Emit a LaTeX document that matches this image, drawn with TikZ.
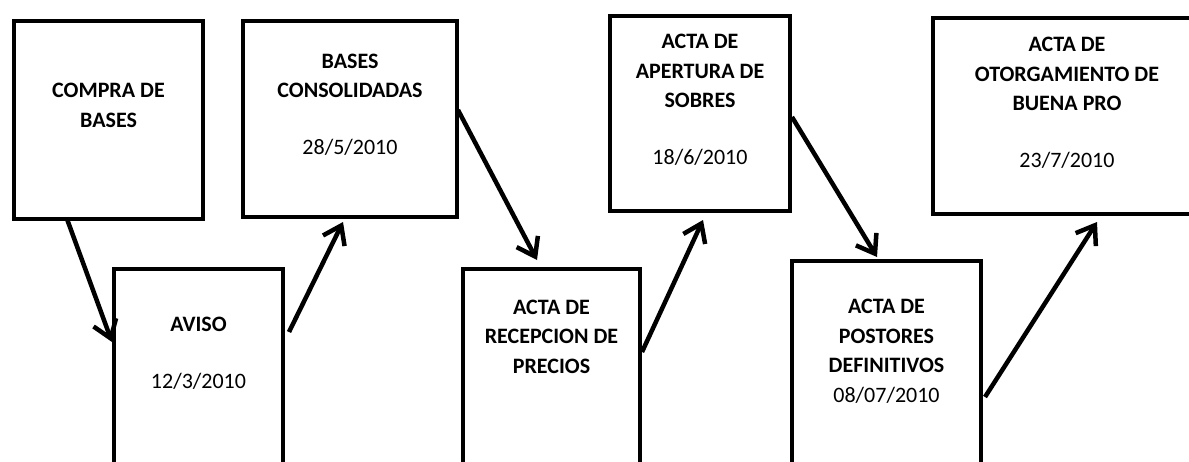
\documentclass[tikz,border=0pt]{standalone}
\usepackage{fontspec}
\setmainfont{Carlito}
\usetikzlibrary{arrows.meta}
\newcommand*\boxline{4.5pt}
\newcommand*\flowline{4.5pt}
\tikzset{
    stage/.style     = {draw, rectangle, line width=\boxline,
                        anchor=north west, inner sep=0pt, outer sep=0pt},
    stagetext/.style = {anchor=base, align=center, inner sep=0pt,
                        font=\fontsize{22}{29.5}\selectfont\bfseries},
    flow/.style      = {line width=\flowline,
                        -{Straight Barb[length=17pt, width=24pt]}},
  }

\begin{document}
\begin{tikzpicture}[x=1pt, y=-1pt]
    % page frame: boxes run off the right and bottom edges
    \useasboundingbox (0,0) rectangle (1189,461);
    \clip (0,0) rectangle (1189,461);

    % upper row of boxes
    \node[stage, minimum width=189pt, minimum height=198pt] (compra)       at (14,21)  {};
    \node[stage, minimum width=214pt, minimum height=196pt] (bases)        at (243,21) {};
    \node[stage, minimum width=180pt, minimum height=195pt] (apertura)     at (610,16) {};
    \node[stage, minimum width=268pt, minimum height=196pt] (otorgamiento) at (933,18) {};

    % lower row of boxes
    \node[stage, minimum width=169pt, minimum height=240pt] (aviso)     at (114,269) {};
    \node[stage, minimum width=177pt, minimum height=240pt] (recepcion) at (463,269) {};
    \node[stage, minimum width=189pt, minimum height=240pt] (postores)  at (792,261) {};

    % texts: base anchor sits on the last line, so shift down to it
    \node[stagetext] (compratext)    at ([yshift=-106pt]compra.north)    {COMPRA DE\\BASES};
    \node[stagetext] (avisotext)     at ([yshift=-119pt]aviso.north)     {AVISO\\[27pt]\mdseries 12/3/2010};
    \node[stagetext] (basestext)     at ([yshift=-133pt]bases.north)     {BASES\\CONSOLIDADAS\\[27pt]\mdseries 28/5/2010};
    \node[stagetext] (recepciontext) at ([yshift=-104pt]recepcion.north) {ACTA DE\\RECEPCION DE\\PRECIOS};
    \node[stagetext] (aperturatext)  at ([yshift=-148pt]apertura.north)  {ACTA DE\\APERTURA DE\\SOBRES\\[27pt]\mdseries 18/6/2010};
    \node[stagetext] (postorestext)  at ([yshift=-141pt]postores.north)  {ACTA DE\\POSTORES\\DEFINITIVOS\\\mdseries 08/07/2010};
    \node[stagetext] (otorgamientotext) at ([yshift=-149pt]otorgamiento.north) {ACTA DE\\OTORGAMIENTO DE\\BUENA PRO\\[27pt]\mdseries 23/7/2010};

    % zig-zag of arrows between the rows
    \draw[flow] ([xshift=53pt]compra.south west) -- ([xshift=-2pt, yshift=-73pt]aviso.north west);
    \draw[flow] ([xshift=6pt, yshift=-63pt]aviso.north east) -- ([xshift=100pt, yshift=-5pt]bases.south west);
    \draw[flow] ([xshift=1pt, yshift=-89pt]bases.north east) -- ([xshift=74pt, yshift=9pt]recepcion.north west);
    \draw[flow] ([xshift=2pt, yshift=-83pt]recepcion.north east) -- ([xshift=93pt, yshift=-9pt]apertura.south west);
    \draw[flow] ([xshift=2pt, yshift=-101pt]apertura.north east) -- ([xshift=85pt, yshift=4pt]postores.north west);
    \draw[flow] ([xshift=4pt, yshift=-136pt]postores.north east) -- ([xshift=164pt, yshift=-8pt]otorgamiento.south west);
\end{tikzpicture}
\end{document}
